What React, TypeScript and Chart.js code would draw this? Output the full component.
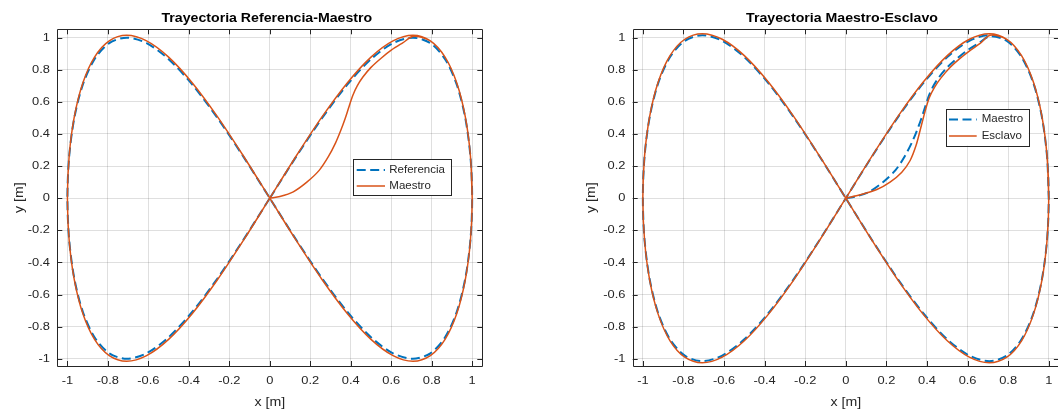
import React, { useEffect, useRef } from "react";
import { Chart, registerables } from "chart.js";

Chart.register(...registerables);

// ---------- tick values / labels ----------
const xTicks = [-1, -0.8, -0.6, -0.4, -0.2, 0, 0.2, 0.4, 0.6, 0.8, 1];
const xTickLabels = ["-1", "-0.8", "-0.6", "-0.4", "-0.2", "0", "0.2", "0.4", "0.6", "0.8", "1"];
const yTicks = [-1, -0.8, -0.6, -0.4, -0.2, 0, 0.2, 0.4, 0.6, 0.8, 1];
const yTickLabels = ["-1", "-0.8", "-0.6", "-0.4", "-0.2", "0", "0.2", "0.4", "0.6", "0.8", "1"];

// ---------- series ----------
const refX = [
  0, 0.1305, 0.2588, 0.3827, 0.5, 0.6088, 0.7071, 0.7934, 0.866, 0.9239, 0.9659, 0.9914, 1,
  0.9914, 0.9659, 0.9239, 0.866, 0.7934, 0.7071, 0.6088, 0.5, 0.3827, 0.2588, 0.1305, 0,
  -0.1305, -0.2588, -0.3827, -0.5, -0.6088, -0.7071, -0.7934, -0.866, -0.9239, -0.9659, -0.9914, -1,
  -0.9914, -0.9659, -0.9239, -0.866, -0.7934, -0.7071, -0.6088, -0.5, -0.3827, -0.2588, -0.1305, 0,
];
const refY = [
  0, 0.2588, 0.5, 0.7071, 0.866, 0.9659, 1, 0.9659, 0.866, 0.7071, 0.5, 0.2588, 0,
  -0.2588, -0.5, -0.7071, -0.866, -0.9659, -1, -0.9659, -0.866, -0.7071, -0.5, -0.2588, 0,
  0.2588, 0.5, 0.7071, 0.866, 0.9659, 1, 0.9659, 0.866, 0.7071, 0.5, 0.2588, 0,
  -0.2588, -0.5, -0.7071, -0.866, -0.9659, -1, -0.9659, -0.866, -0.7071, -0.5, -0.2588, 0,
];

const maestroX = [
  0, 0.05, 0.116, 0.183, 0.245, 0.29, 0.325, 0.35, 0.372, 0.39, 0.41, 0.432, 0.46, 0.5, 0.55, 0.6, 0.655, 0.711,
  0.7934, 0.866, 0.9239, 0.9659, 0.9914, 1, 0.9914, 0.9659, 0.9239, 0.866, 0.7934, 0.7071, 0.6088, 0.5, 0.3827,
  0.2588, 0.1305, 0, -0.1305, -0.2588, -0.3827, -0.5, -0.6088, -0.7071, -0.7934, -0.866, -0.9239, -0.9659,
  -0.9914, -1, -0.9914, -0.9659, -0.9239, -0.866, -0.7934, -0.7071, -0.6088, -0.5, -0.3827, -0.2588, -0.1305, 0,
  0.1305, 0.2588, 0.3827, 0.5, 0.6088, 0.7071, 0.7934, 0.866, 0.9239, 0.9659, 0.9914, 1,
];
const maestroY = [
  0, 0.011, 0.04, 0.1, 0.175, 0.26, 0.345, 0.42, 0.495, 0.565, 0.64, 0.7, 0.755, 0.815, 0.872, 0.922, 0.966, 1.008,
  0.98, 0.879, 0.718, 0.508, 0.263, 0, -0.263, -0.508, -0.718, -0.879, -0.98, -1.015, -0.98, -0.879, -0.718,
  -0.508, -0.263, 0, 0.263, 0.508, 0.718, 0.879, 0.98, 1.015, 0.98, 0.879, 0.718, 0.508,
  0.263, 0, -0.263, -0.508, -0.718, -0.879, -0.98, -1.015, -0.98, -0.879, -0.718, -0.508, -0.263, 0,
  0.263, 0.508, 0.718, 0.879, 0.98, 1.015, 0.98, 0.879, 0.718, 0.508, 0.263, 0,
];

const esclavoX = [
  0, 0.071, 0.153, 0.218, 0.276, 0.317, 0.346, 0.366, 0.383, 0.397, 0.413, 0.437, 0.468, 0.51, 0.56, 0.61, 0.662, 0.711,
  0.7934, 0.866, 0.9239, 0.9659, 0.9914, 1, 0.9914, 0.9659, 0.9239, 0.866, 0.7934, 0.7071, 0.6088, 0.5, 0.3827,
  0.2588, 0.1305, 0, -0.1305, -0.2588, -0.3827, -0.5, -0.6088, -0.7071, -0.7934, -0.866, -0.9239, -0.9659,
  -0.9914, -1, -0.9914, -0.9659, -0.9239, -0.866, -0.7934, -0.7071, -0.6088, -0.5, -0.3827, -0.2588, -0.1305, 0,
  0.1305, 0.2588, 0.3827, 0.5, 0.6088, 0.7071, 0.7934, 0.866, 0.9239, 0.9659, 0.9914, 1,
];
const esclavoY = [
  0, 0.021, 0.054, 0.1, 0.162, 0.235, 0.328, 0.422, 0.505, 0.57, 0.63, 0.69, 0.748, 0.81, 0.868, 0.918, 0.964, 1.015,
  0.99, 0.888, 0.725, 0.513, 0.265, 0, -0.265, -0.513, -0.725, -0.888, -0.99, -1.025, -0.99, -0.888, -0.725,
  -0.513, -0.265, 0, 0.265, 0.513, 0.725, 0.888, 0.99, 1.025, 0.99, 0.888, 0.725, 0.513,
  0.265, 0, -0.265, -0.513, -0.725, -0.888, -0.99, -1.025, -0.99, -0.888, -0.725, -0.513, -0.265, 0,
  0.265, 0.513, 0.725, 0.888, 0.99, 1.025, 0.99, 0.888, 0.725, 0.513, 0.265, 0,
];

// ---------- styling ----------
const BLUE = "#0072BD";
const ORANGE = "#D95319";
const AXIS = "#262626";
const GRID = "rgba(38,38,38,0.15)";
const FONT = '"Liberation Sans", Arial, Helvetica, sans-serif';
const SX = 1.15;
const CW = 1070;
const CH = 412;
const X_MIN = -1.05;
const X_MAX = 1.05;
const Y_MIN = -1.045;
const Y_MAX = 1.052;
const DASH = [9, 4.5];

type Series = { label: string; xs: number[]; ys: number[]; color: string; dash: number[]; width: number };
type PlotCfg = {
  area: { left: number; right: number; top: number; bottom: number };
  title: string;
  titleX: number;
  yLabelX: number;
  legend: { left: number; right: number; top: number; bottom: number; x0: number; x1: number; tx: number; rows: number[] };
  series: Series[];
};

function txt(
  ctx: CanvasRenderingContext2D,
  s: string,
  x: number,
  y: number,
  size: number,
  bold: boolean,
  align: CanvasTextAlign,
  baseline: CanvasTextBaseline,
  color: string,
  rotate = false
) {
  ctx.save();
  ctx.translate(x, y);
  if (rotate) ctx.rotate(-Math.PI / 2);
  ctx.scale(SX, 1);
  ctx.font = `${bold ? "bold " : ""}${size}px ${FONT}`;
  ctx.textAlign = align;
  ctx.textBaseline = baseline;
  ctx.fillStyle = color;
  ctx.fillText(s, 0, 0);
  ctx.restore();
}

const al = (v: number) => Math.round(v) + 0.5;

function makeDecor(cfg: PlotCfg) {
  return {
    id: "matlabDecor",
    afterDraw(chart: any) {
      const ctx: CanvasRenderingContext2D = chart.ctx;
      const { left, right, top, bottom } = chart.chartArea;
      const xs = chart.scales.x;
      const ys = chart.scales.y;
      ctx.save();
      // box
      ctx.strokeStyle = AXIS;
      ctx.lineWidth = 1;
      ctx.beginPath();
      ctx.rect(al(left), al(top), Math.round(right) - Math.round(left), Math.round(bottom) - Math.round(top));
      ctx.stroke();
      // ticks
      ctx.beginPath();
      xTicks.forEach((v) => {
        const p = al(xs.getPixelForValue(v));
        ctx.moveTo(p, bottom);
        ctx.lineTo(p, bottom - 5);
        ctx.moveTo(p, top);
        ctx.lineTo(p, top + 5);
      });
      yTicks.forEach((v) => {
        const p = al(ys.getPixelForValue(v));
        ctx.moveTo(left, p);
        ctx.lineTo(left + 5, p);
        ctx.moveTo(right, p);
        ctx.lineTo(right - 5, p);
      });
      ctx.stroke();
      // tick labels
      xTicks.forEach((v, i) => {
        txt(ctx, xTickLabels[i], xs.getPixelForValue(v), 381, 11.2, false, "center", "middle", AXIS);
      });
      yTicks.forEach((v, i) => {
        txt(ctx, yTickLabels[i], left - 7.3, ys.getPixelForValue(v), 11.2, false, "right", "middle", AXIS);
      });
      // axis labels
      txt(ctx, "x [m]", (left + right) / 2, 402.5, 12.3, false, "center", "middle", AXIS);
      txt(ctx, "y [m]", cfg.yLabelX, (top + bottom) / 2, 12.3, false, "center", "middle", AXIS, true);
      // title
      txt(ctx, cfg.title, cfg.titleX, 21.5, 12.3, true, "center", "alphabetic", "#000");
      // legend
      const L = cfg.legend;
      ctx.fillStyle = "#fff";
      ctx.fillRect(L.left, L.top, L.right - L.left, L.bottom - L.top);
      ctx.strokeStyle = AXIS;
      ctx.lineWidth = 1;
      ctx.setLineDash([]);
      ctx.strokeRect(al(L.left), al(L.top), Math.round(L.right - L.left), Math.round(L.bottom - L.top));
      cfg.series.forEach((s, i) => {
        const y = L.rows[i];
        ctx.strokeStyle = s.color;
        ctx.lineWidth = s.width;
        ctx.setLineDash(s.dash);
        ctx.beginPath();
        ctx.moveTo(L.x0, y);
        ctx.lineTo(L.x1, y);
        ctx.stroke();
        ctx.setLineDash([]);
        txt(ctx, s.label, L.tx, y, 10, false, "left", "middle", AXIS);
      });
      ctx.restore();
    },
  };
}

function Plot({ cfg }: { cfg: PlotCfg }) {
  const ref = useRef<HTMLCanvasElement>(null);
  useEffect(() => {
    const a = cfg.area;
    const chart = new Chart(ref.current as HTMLCanvasElement, {
      type: "scatter",
      data: {
        datasets: cfg.series.map((s, i) => ({
          label: s.label,
          data: s.xs.map((x, k) => ({ x, y: s.ys[k] })),
          showLine: true,
          borderColor: s.color,
          backgroundColor: s.color,
          borderWidth: s.width,
          borderDash: s.dash,
          pointRadius: 0,
          pointHoverRadius: 0,
          tension: 0.3,
          fill: false,
          order: cfg.series.length - i,
        })),
      },
      options: {
        responsive: false,
        animation: false,
        devicePixelRatio: 1,
        events: [],
        layout: { padding: { left: a.left, top: a.top, right: CW - a.right, bottom: CH - a.bottom } },
        plugins: { legend: { display: false }, title: { display: false }, tooltip: { enabled: false } },
        scales: {
          x: {
            type: "linear",
            min: X_MIN,
            max: X_MAX,
            afterBuildTicks: (s: any) => {
              s.ticks = xTicks.map((v) => ({ value: v }));
            },
            afterFit: (s: any) => {
              s.height = 0;
            },
            ticks: { display: false },
            grid: { color: GRID, lineWidth: 1, drawTicks: false },
            border: { display: false },
          },
          y: {
            type: "linear",
            min: Y_MIN,
            max: Y_MAX,
            afterBuildTicks: (s: any) => {
              s.ticks = yTicks.map((v) => ({ value: v }));
            },
            afterFit: (s: any) => {
              s.width = 0;
            },
            ticks: { display: false },
            grid: { color: GRID, lineWidth: 1, drawTicks: false },
            border: { display: false },
          },
        },
      } as any,
      plugins: [makeDecor(cfg)],
    });
    return () => chart.destroy();
  }, [cfg]);
  return (
    <canvas
      ref={ref}
      width={CW}
      height={CH}
      style={{ position: "absolute", left: 0, top: 0, width: CW, height: CH }}
    />
  );
}

const leftCfg: PlotCfg = {
  area: { left: 57.3, right: 482.3, top: 29.3, bottom: 366 },
  title: "Trayectoria Referencia-Maestro",
  titleX: 266.8,
  yLabelX: 19.5,
  legend: { left: 352.7, right: 450.7, top: 159.3, bottom: 195.7, x0: 356.7, x1: 385, tx: 389.3, rows: [170, 186] },
  series: [
    { label: "Referencia", xs: refX, ys: refY, color: BLUE, dash: DASH, width: 2 },
    { label: "Maestro", xs: maestroX, ys: maestroY, color: ORANGE, dash: [], width: 1.5 },
  ],
};

const rightCfg: PlotCfg = {
  area: { left: 632.7, right: 1058.9, top: 29.3, bottom: 366 },
  title: "Trayectoria Maestro-Esclavo",
  titleX: 842,
  yLabelX: 592,
  legend: { left: 945.7, right: 1028.7, top: 109, bottom: 145.7, x0: 949, x1: 976.7, tx: 981.7, rows: [119.5, 136] },
  series: [
    { label: "Maestro", xs: maestroX, ys: maestroY, color: BLUE, dash: DASH, width: 2 },
    { label: "Esclavo", xs: esclavoX, ys: esclavoY, color: ORANGE, dash: [], width: 1.5 },
  ],
};

export default function App() {
  return (
    <div
      style={{
        position: "absolute",
        left: 0,
        top: 0,
        width: 1058,
        height: 412,
        overflow: "hidden",
        background: "#fff",
      }}
    >
      <Plot cfg={leftCfg} />
      <Plot cfg={rightCfg} />
    </div>
  );
}
